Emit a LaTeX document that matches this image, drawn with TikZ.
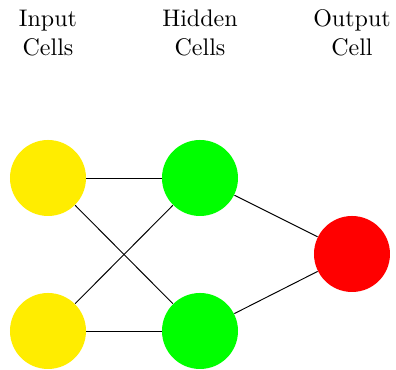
\documentclass[tikz,border=0pt]{standalone}
\definecolor{cellyellow}{RGB}{255,237,0}
\definecolor{cellgreen}{RGB}{0,255,0}
\definecolor{cellred}{RGB}{255,0,0}
\tikzset{
  cell/.style={circle,minimum size=31.67pt,inner sep=0pt,draw=none},
  incell/.style={cell,fill=cellyellow},
  hidcell/.style={cell,fill=cellgreen},
  outcell/.style={cell,fill=cellred},
  heading/.style={align=center,inner sep=0pt},
  link/.style={draw=black,line width=0.4pt}
}
\begin{document}
\begin{tikzpicture}[x=0.41667pt,y=-0.41667pt]
\useasboundingbox (0,0) rectangle (396,370);
\node[incell] (i1) at (48,178) {};
\node[incell] (i2) at (48,331) {};
\node[hidcell] (h1) at (200,178) {};
\node[hidcell] (h2) at (200,331) {};
\node[outcell] (o) at (352,254) {};
\node[heading] (ti) at (48,33) {Input\\Cells};
\node[heading] (th) at (200,33) {Hidden\\Cells};
\node[heading] (to) at (352,33) {Output\\Cell};
\draw[link] (i1) -- (h1);
\draw[link] (i1) -- (h2);
\draw[link] (i2) -- (h1);
\draw[link] (i2) -- (h2);
\draw[link] (h1) -- (o);
\draw[link] (h2) -- (o);
\end{tikzpicture}
\end{document}
